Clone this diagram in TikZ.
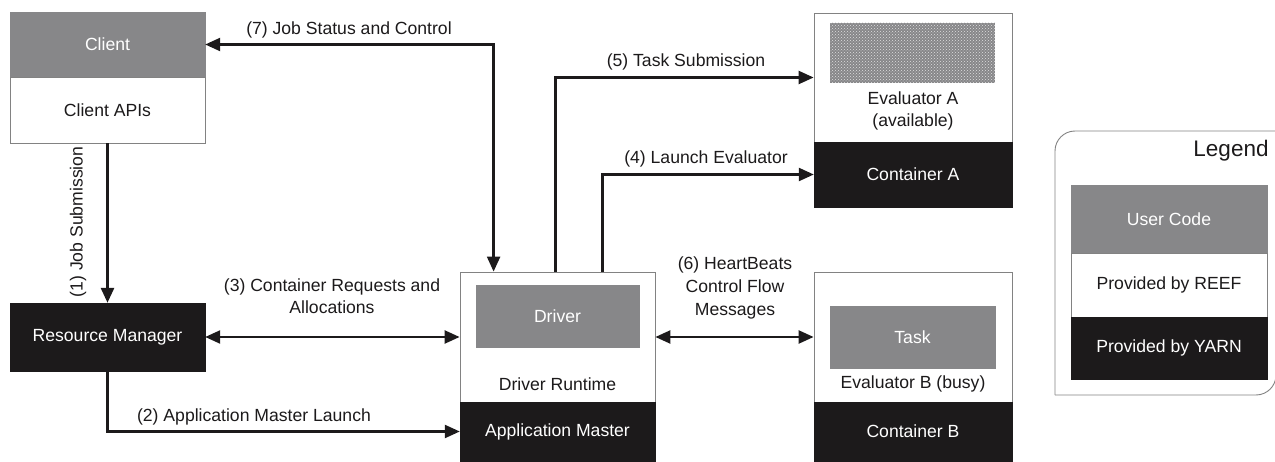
\documentclass[tikz,border=0pt]{standalone}
\usepackage{fontspec}
\setmainfont{Liberation Sans}
\usetikzlibrary{arrows.meta,calc,patterns}
\definecolor{ucode}{RGB}{135,135,137}
\definecolor{yarn}{RGB}{28,26,27}
\definecolor{edge}{RGB}{130,130,130}
\begin{document}
\begin{tikzpicture}[x=1pt,y=-1pt,
  every node/.style={font=\fontsize{17.6}{21}\selectfont, inner sep=0pt},
  usr/.style={rectangle, fill=ucode, draw=ucode, text=white, minimum width=195pt},
  reef/.style={rectangle, fill=white, draw=edge, line width=0.8pt, minimum width=195pt},
  yrn/.style={rectangle, fill=yarn, draw=yarn, text=white, minimum width=195pt},
  inner/.style={rectangle, fill=ucode, draw=ucode, text=white, minimum width=163pt, minimum height=62pt},
  flow/.style={line width=2.3pt, draw=yarn, -{Triangle[length=15pt,width=13pt]}},
  flow2/.style={line width=2.3pt, draw=yarn, {Triangle[length=15pt,width=13pt]}-{Triangle[length=15pt,width=13pt]}},
  lbl/.style={align=center, text=yarn}
]
\useasboundingbox (0,0) rectangle (1275,462);
% Client
\node[usr, minimum height=65pt] (client) at (107.5,44.5) {Client};
\node[reef, minimum height=66pt] (capi) at (107.5,110) {\textcolor{yarn}{Client APIs}};
% Resource manager
\node[yrn, minimum height=68pt] (rm) at (107.5,337) {Resource Manager};
% Driver
\node[reef, minimum height=130pt] (dr) at (557.5,337) {};
\node[inner] (driver) at (557.5,316) {Driver};
\node[lbl] (drt) at (557.5,384) {Driver Runtime};
\node[yrn, minimum height=59pt] (am) at (557.5,431.5) {Application Master};
% Evaluator A
\node[reef, minimum width=198pt, minimum height=129pt] (eva) at (913,77.5) {};
\fill[ucode] (830,23) rectangle (995,83);
\fill[pattern=crosshatch dots, pattern color=white!75!ucode] (830,23) rectangle (995,83);
\node[lbl] (evat) at (913,111) {Evaluator A\\[1pt](available)};
\node[yrn, minimum width=198pt, minimum height=65pt] (conta) at (913,174.5) {Container A};
% Evaluator B
\node[reef, minimum width=198pt, minimum height=130pt] (evb) at (913,337) {};
\node[inner, minimum width=165pt] (task) at (912.5,337) {Task};
\node[lbl] (evbt) at (913,384) {Evaluator B (busy)};
\node[yrn, minimum width=198pt, minimum height=59pt] (contb) at (913,431.5) {Container B};
% Legend
\draw[edge, line width=0.9pt, rounded corners=20pt] (1055,395) -- (1055,131) -- (1290,131);
\draw[edge, line width=0.9pt, rounded corners=20pt] (1055,395) -- (1276,395) -- (1276,300);
\node[lbl, font=\fontsize{22.5}{26}\selectfont] (leg) at (1231,151) {Legend};
\node[usr, minimum width=196pt, minimum height=68pt] (lu) at (1169,219) {User Code};
\node[reef, minimum width=196pt, minimum height=64pt] (lr) at (1169,285) {\textcolor{yarn}{Provided by REEF}};
\node[yrn, minimum width=196pt, minimum height=62pt] (ly) at (1169,348) {Provided by YARN};
% Connectors
\draw[flow, line width=2.8pt] (capi.south) -- (rm.north);
\node[lbl, rotate=90] (l1) at (78,222) {(1) Job Submission};
\draw[flow] (rm.south) |- (am.west);
\node[lbl] (l2) at (254,417) {(2) Application Master Launch};
\draw[flow2] (rm.east) -- (dr.west);
\node[lbl] (l3) at (332,296) {(3) Container Requests and\\[1pt]Allocations};
\draw[flow2] (client.east) -| ($(dr.north west)+(34,0)$);
\node[lbl] (l7) at (349,30) {(7) Job Status and Control};
\draw[flow] ($(dr.north west)+(96,0)$) |- (eva.west);
\node[lbl] (l5) at (686,62) {(5) Task Submission};
\draw[flow] ($(dr.north west)+(143,0)$) |- (conta.west);
\node[lbl] (l4) at (706,159) {(4) Launch Evaluator};
\draw[flow2] (dr.east) -- (evb.west);
\node[lbl] (l6) at (735,288) {(6) HeartBeats\\[2pt]Control Flow\\[2pt]Messages};
\end{tikzpicture}
\end{document}
